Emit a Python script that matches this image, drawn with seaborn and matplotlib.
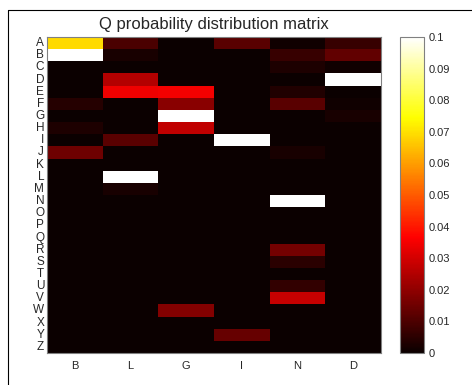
import numpy as np
import pandas as pd
import matplotlib
matplotlib.use("Agg")
import matplotlib.pyplot as plt
import seaborn as sns

# rows / columns of the matrix
rows = list("ABCDEFGHIJKLMNOPQRSTUVWXYZ")
cols = ["B", "L", "G", "I", "N", "D"]

# values, one list per column
col_B = [0.069, 0.100, 0, 0, 0, 0.004, 0, 0.003, 0, 0.015, 0, 0, 0,
         0, 0, 0, 0, 0, 0, 0, 0, 0, 0, 0, 0, 0]
col_L = [0.0096, 0.002, 0, 0.025, 0.034, 0, 0, 0, 0.012, 0, 0, 0.100, 0.002,
         0, 0, 0, 0, 0, 0, 0, 0, 0, 0, 0, 0, 0]
col_G = [0, 0, 0, 0, 0.035, 0.019, 0.100, 0.027, 0, 0, 0, 0, 0,
         0, 0, 0, 0, 0, 0, 0, 0, 0, 0.018, 0, 0, 0]
col_I = [0.012, 0, 0, 0, 0, 0, 0, 0, 0.100, 0, 0, 0, 0,
         0, 0, 0, 0, 0, 0, 0, 0, 0, 0, 0, 0.014, 0]
col_N = [0.001, 0.0067, 0.003, 0, 0.0035, 0.012, 0, 0, 0, 0.002, 0, 0, 0,
         0.100, 0, 0, 0, 0.016, 0.005, 0, 0.006, 0.028, 0, 0, 0, 0]
col_D = [0.0067, 0.013, 0.001, 0.100, 0, 0.001, 0.002, 0, 0, 0, 0, 0, 0,
         0, 0, 0, 0, 0, 0, 0, 0, 0, 0, 0, 0, 0]

df = pd.DataFrame({"B": col_B, "L": col_L, "G": col_G, "I": col_I,
                   "N": col_N, "D": col_D}, index=rows)[cols]

sns.set_style("white")
plt.rcParams["font.family"] = ["Liberation Sans", "DejaVu Sans"]

fig = plt.figure(figsize=(4.72, 3.85), dpi=100)
ax = fig.add_axes([47 / 472, 1 - 353 / 385, 334 / 472, 316 / 385])
cax = fig.add_axes([400 / 472, 1 - 353 / 385, 24 / 472, 316 / 385])

sns.heatmap(df, ax=ax, cbar_ax=cax, cmap="hot", vmin=0, vmax=0.1,
            xticklabels=True, yticklabels=True)

# heatmap frame and ticks (matlab style: small, inside, all sides)
for s in ax.spines.values():
    s.set_visible(True)
    s.set_color("#808080")
    s.set_linewidth(0.8)
ax.set_yticklabels(rows, rotation=0, fontsize=8.5)
ax.set_xticklabels(cols, rotation=0, fontsize=8)
ax.tick_params(axis="both", direction="in", length=2, width=0.6,
               color="#909090", left=True, right=True, top=True, bottom=True)
ax.tick_params(axis="y", pad=2)
ax.tick_params(axis="x", pad=6)
ax.set_xlabel("")
ax.set_ylabel("")
ax.set_title("Q probability distribution matrix", fontsize=12, pad=6)

# colorbar
cbar = ax.collections[0].colorbar
cbar.set_ticks(np.arange(0, 0.101, 0.01))
cbar.set_ticklabels(["0", "0.01", "0.02", "0.03", "0.04", "0.05",
                     "0.06", "0.07", "0.08", "0.09", "0.1"])
cbar.outline.set_edgecolor("#808080")
cbar.outline.set_linewidth(0.8)
cax.tick_params(labelsize=8, direction="in", length=3, width=0.6,
                color="#808080", pad=3, left=True, right=True)

# outer frame (left and top edges)
fig.add_artist(plt.Line2D([8 / 472, 8 / 472], [0, 1 - 10 / 385],
                          transform=fig.transFigure, color="black", lw=0.8))
fig.add_artist(plt.Line2D([8 / 472, 1], [1 - 10 / 385, 1 - 10 / 385],
                          transform=fig.transFigure, color="black", lw=0.8))

plt.savefig("out.png", dpi=100)
